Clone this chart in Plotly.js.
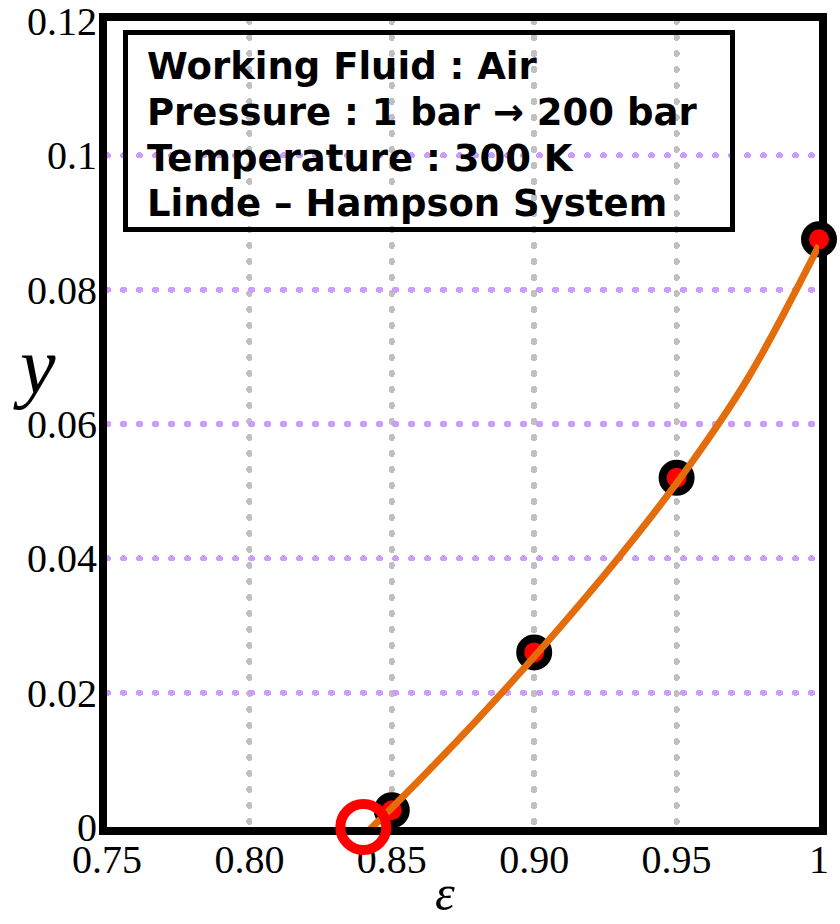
<!DOCTYPE html>
<html>
<head>
<meta charset="utf-8">
<script src="https://cdn.plot.ly/plotly-3.0.1.min.js"></script>
<style>
  html, body { margin: 0; padding: 0; background: #fff; }
  #chart { width: 840px; height: 924px; }
  .gridlayer path { stroke-linecap: round !important; }
</style>
</head>
<body>
<div id="chart"></div>
<script>
// ---- data ----
const xTickVals = [0.75, 0.80, 0.85, 0.90, 0.95, 1.0];
const xTickText = ['0.75', '0.80', '0.85', '0.90', '0.95', '1'];
const yTickVals = [0, 0.02, 0.04, 0.06, 0.08, 0.1, 0.12];

// computed liquid yield points (markers)
const effX = [0.85, 0.90, 0.95, 1.0];
const yieldY = [0.0025, 0.026, 0.052, 0.0875];

// fitted curve (orange line)
const curveX = [0.8329, 0.8518, 0.88, 0.9024, 0.93, 0.9526, 0.975, 1.0];
const curveY = [-0.0042, 0.0036, 0.016, 0.0265, 0.0403, 0.0527, 0.0668, 0.0866];

// minimum effectiveness (zero yield) point
const zeroX = [0.84];
const zeroY = [0];

const infoLines = [
  'Working Fluid : Air',
  'Pressure : 1 bar \u2192 200 bar',
  'Temperature : 300 K',
  'Linde \u2013 Hampson System'
];

// ---- layout geometry (pixels) ----
const W = 840, H = 924;
const M = { l: 107, r: 21, t: 21, b: 97 };
const plotW = W - M.l - M.r, plotH = H - M.t - M.b;
const px2paperX = px => (px - M.l) / plotW;
const px2paperY = py => 1 - (py - M.t) / plotH;

const traces = [
  {
    x: effX, y: yieldY, type: 'scatter', mode: 'markers', cliponaxis: false,
    marker: { size: 28, color: '#ff0000', line: { color: '#000000', width: 8 } },
    hoverinfo: 'skip', showlegend: false
  },
  {
    x: curveX, y: curveY, type: 'scatter', mode: 'lines', cliponaxis: false,
    line: { color: '#e46c0a', width: 7, shape: 'spline', smoothing: 1 },
    hoverinfo: 'skip', showlegend: false
  },
  {
    x: zeroX, y: zeroY, type: 'scatter', mode: 'markers', cliponaxis: false,
    marker: { symbol: 'circle-open', size: 46, color: '#ff0000', line: { width: 10, color: '#ff0000' } },
    hoverinfo: 'skip', showlegend: false
  }
];

const tickFont = { family: 'Liberation Serif, Times New Roman, serif', size: 40, color: '#000' };

const annotations = [
  {
    xref: 'paper', yref: 'paper', x: px2paperX(34), y: px2paperY(366),
    xanchor: 'center', yanchor: 'middle', showarrow: false,
    text: '<i>y</i>',
    font: { family: 'Liberation Serif, serif', size: 80, color: '#000' }
  },
  {
    xref: 'paper', yref: 'paper', x: px2paperX(445), y: px2paperY(893),
    xanchor: 'center', yanchor: 'middle', showarrow: false,
    text: '<i>\u03b5</i>',
    font: { family: 'Liberation Serif, serif', size: 50, color: '#000' }
  }
];
infoLines.forEach((s, i) => {
  annotations.push({
    xref: 'paper', yref: 'paper', x: px2paperX(145), y: px2paperY(66 + 46 * i),
    xanchor: 'left', yanchor: 'middle', showarrow: false, align: 'left',
    text: '<b>' + s + '</b>',
    font: { family: 'DejaVu Sans, Verdana, sans-serif', size: 37, color: '#000' }
  });
});

const layout = {
  width: W, height: H,
  paper_bgcolor: '#fff', plot_bgcolor: '#fff',
  margin: M,
  showlegend: false,
  xaxis: {
    range: [0.75, 1.0],
    tickmode: 'array', tickvals: xTickVals, ticktext: xTickText,
    tickfont: tickFont, ticks: '', ticklabelstandoff: -10, ticklabeloverflow: 'allow',
    showline: true, linecolor: '#000', linewidth: 8, mirror: true,
    showgrid: true, gridcolor: '#c0c0c0', gridwidth: 6, griddash: '1px,15px',
    zeroline: false, layer: 'below traces'
  },
  yaxis: {
    range: [0, 0.12001],
    tickmode: 'array', tickvals: yTickVals,
    tickfont: tickFont, ticks: '', ticklabelstandoff: -6, ticklabeloverflow: 'allow',
    showline: true, linecolor: '#000', linewidth: 8, mirror: true,
    showgrid: true, gridcolor: '#cc9cff', gridwidth: 6, griddash: '1px,15px',
    zeroline: false, layer: 'below traces'
  },
  shapes: [
    {
      type: 'rect', xref: 'paper', yref: 'paper',
      x0: px2paperX(125.5), x1: px2paperX(732.5),
      y0: px2paperY(32.5), y1: px2paperY(229.5),
      line: { color: '#000', width: 5 }, fillcolor: 'rgba(0,0,0,0)'
    }
  ],
  annotations: annotations
};

Plotly.newPlot('chart', traces, layout, { staticPlot: true, displayModeBar: false });
</script>
</body>
</html>
